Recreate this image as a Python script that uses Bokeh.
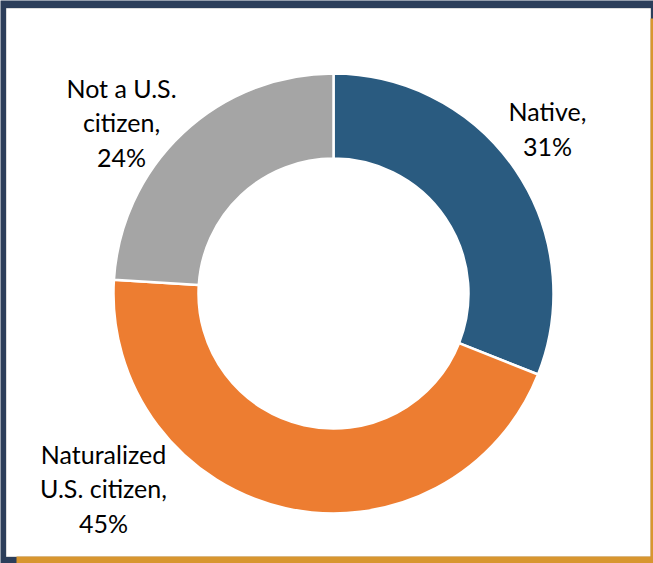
import numpy as np
from bokeh.plotting import figure
from bokeh.models import Range1d, ColumnDataSource
from bokeh.core.properties import value
from bokeh.embed import file_html
from bokeh.resources import INLINE

categories = ["Native", "Naturalized U.S. citizen", "Not a U.S. citizen"]
shares = [31, 45, 24]
labels = ["Native,\n31%", "Naturalized\nU.S. citizen,\n45%", "Not a U.S.\ncitizen,\n24%"]
colors = ["#2a5b80", "#ed7d31", "#a5a5a5"]

# label placement (px offsets from donut centre)
label_x = [214, -230, -212]
label_y = [165, -195, 171]

fracs = np.array(shares) / np.sum(shares)
ends = np.pi / 2 - 2 * np.pi * np.cumsum(fracs)
starts = np.concatenate([[np.pi / 2], ends[:-1]])

src = ColumnDataSource(dict(cat=categories, start=starts, end=ends, color=colors))
lsrc = ColumnDataSource(dict(x=label_x, y=label_y, text=labels))

p = figure(width=653, height=563, output_backend="svg", toolbar_location=None,
           x_range=Range1d(-333, 320), y_range=Range1d(-270, 293),
           min_border=0, border_fill_color="#2c3e5a", background_fill_color="#2c3e5a")
p.axis.visible = False
p.grid.visible = False
p.outline_line_color = None

# slide frame decoration: white panel, orange edges
p.quad(left=[-327], right=[317], bottom=[-263], top=[285],
       fill_color="white", line_color="#dcdcdc", line_width=1)
p.quad(left=[-317, 317], right=[320, 320], bottom=[-270, -270], top=[-263, 275],
       fill_color="#d8962f", line_color=None)

p.annular_wedge(x=0, y=0, inner_radius=135, outer_radius=220,
                start_angle="start", end_angle="end", direction="clock",
                fill_color="color", line_color="white", line_width=2.5, source=src)

p.text(x="x", y="y", text="text", source=lsrc, text_align="center",
       text_baseline="middle", text_font=value("Lato"), text_font_size="25px",
       text_line_height=1.14, text_color="#000000")

open("out.html", "w").write(file_html(p, INLINE))
